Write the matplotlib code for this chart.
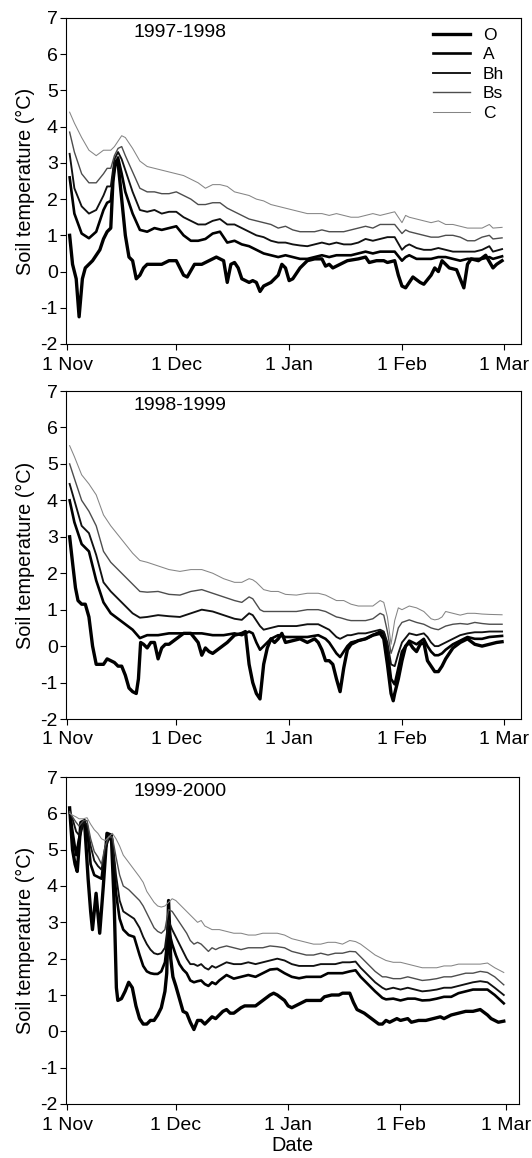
import matplotlib
matplotlib.use("Agg")
import matplotlib.pyplot as plt

plt.rcParams['font.family'] = ['Liberation Sans', 'DejaVu Sans']
plt.rcParams['axes.unicode_minus'] = False

# Day numbers count from 1 Nov (= 0)
tick_labels = ["1 Nov", "1 Dec", "1 Jan", "1 Feb", "1 Mar"]
ticks_9798 = [0, 30, 61, 92, 120]
ticks_9899 = [0, 30, 61, 92, 120]
ticks_9900 = [0, 30, 61, 92, 121]
horizons = ["O", "A", "Bh", "Bs", "C"]
seasons = ["1997-1998", "1998-1999", "1999-2000"]

# ---------------- 1997-1998 ----------------
o_9798_days = [0.7, 1.5, 2.5, 3.3, 4.2, 5, 7, 9, 10, 11, 12, 12.6, 13.3, 14, 15, 16, 17, 18, 19, 20,
               21, 22, 24, 26, 28, 30, 32, 33, 35, 37, 39, 41, 43, 44, 45, 46, 47, 48, 50, 51,
               52, 53, 54, 56, 58, 59, 60, 61, 62, 64, 66, 68, 70, 71, 72, 73, 75, 77, 80, 82,
               83, 85, 87, 88, 90, 91, 92, 93, 94, 95, 97, 98, 100, 101, 102, 103, 105, 107, 109, 110,
               111, 113, 115, 117, 118, 119.5]
o_9798 = [1.0, 0.2, -0.2, -1.25, -0.2, 0.1, 0.3, 0.6, 0.9, 1.1, 1.2, 2.5, 3.05, 3.0, 2.0, 1.0, 0.4, 0.3, -0.2, -0.1,
          0.1, 0.2, 0.2, 0.2, 0.3, 0.3, -0.1, -0.15, 0.2, 0.2, 0.3, 0.4, 0.3, -0.3, 0.2, 0.25, 0.1, -0.2, -0.3, -0.25,
          -0.3, -0.55, -0.4, -0.3, -0.1, 0.2, 0.1, -0.25, -0.2, 0.1, 0.3, 0.35, 0.35, 0.15, 0.2, 0.1, 0.2, 0.3, 0.35, 0.4,
          0.25, 0.3, 0.3, 0.25, 0.3, -0.1, -0.4, -0.45, -0.3, -0.15, -0.3, -0.35, -0.1, 0.1, 0.0, 0.3, 0.1, 0.05, -0.45, 0.2,
          0.35, 0.3, 0.45, 0.1, 0.2, 0.3]

days_9798 = [0.7, 2, 4, 6, 8, 10, 11, 12, 13, 14,
             15, 16, 18, 20, 22, 24, 26, 28, 30, 32,
             34, 36, 38, 40, 42, 44, 46, 48, 50, 52,
             54, 56, 58, 60, 62, 64, 66, 68, 70, 72,
             74, 76, 78, 80, 82, 84, 86, 88, 90, 92,
             93, 94, 96, 98, 100, 102, 104, 106, 108, 110,
             112, 114, 116, 117, 119.5]
a_9798 = [2.6, 1.6, 1.05, 0.92, 1.1, 1.7, 1.9, 1.95, 2.9, 3.15,
          2.7, 2.2, 1.6, 1.15, 1.1, 1.2, 1.15, 1.2, 1.25, 1.0,
          0.85, 0.85, 0.9, 1.05, 1.1, 0.8, 0.85, 0.75, 0.7, 0.6,
          0.5, 0.45, 0.4, 0.45, 0.4, 0.35, 0.35, 0.4, 0.45, 0.4,
          0.45, 0.45, 0.45, 0.5, 0.55, 0.5, 0.55, 0.55, 0.55, 0.3,
          0.4, 0.45, 0.35, 0.35, 0.35, 0.4, 0.4, 0.35, 0.3, 0.35,
          0.35, 0.35, 0.4, 0.35, 0.42]
bh_9798 = [3.25, 2.3, 1.8, 1.6, 1.7, 2.1, 2.35, 2.35, 3.1, 3.3,
           3.1, 2.8, 2.2, 1.7, 1.65, 1.7, 1.6, 1.65, 1.65, 1.5,
           1.4, 1.3, 1.3, 1.4, 1.45, 1.3, 1.3, 1.2, 1.1, 1.0,
           0.95, 0.85, 0.8, 0.8, 0.75, 0.72, 0.7, 0.75, 0.8, 0.75,
           0.8, 0.75, 0.75, 0.8, 0.9, 0.85, 0.9, 0.95, 0.95, 0.6,
           0.7, 0.75, 0.65, 0.6, 0.6, 0.65, 0.6, 0.55, 0.55, 0.55,
           0.55, 0.6, 0.7, 0.55, 0.62]
bs_9798 = [3.85, 3.3, 2.7, 2.45, 2.45, 2.7, 2.85, 2.85, 3.2, 3.4,
           3.45, 3.2, 2.75, 2.3, 2.2, 2.2, 2.15, 2.15, 2.2, 2.1,
           2.0, 1.85, 1.85, 1.9, 1.9, 1.75, 1.65, 1.55, 1.45, 1.4,
           1.35, 1.3, 1.2, 1.25, 1.15, 1.1, 1.1, 1.1, 1.15, 1.1,
           1.1, 1.1, 1.15, 1.2, 1.25, 1.2, 1.3, 1.3, 1.3, 1.05,
           1.15, 1.1, 1.05, 1.0, 0.95, 0.95, 1.0, 1.0, 0.95, 0.85,
           0.85, 0.95, 1.0, 0.9, 0.93]
c_9798 = [4.4, 4.1, 3.7, 3.35, 3.2, 3.35, 3.35, 3.35, 3.45, 3.6,
          3.75, 3.7, 3.4, 3.05, 2.9, 2.85, 2.8, 2.75, 2.7, 2.65,
          2.55, 2.45, 2.3, 2.4, 2.4, 2.35, 2.2, 2.15, 2.1, 2.0,
          1.95, 1.85, 1.8, 1.75, 1.7, 1.65, 1.6, 1.6, 1.6, 1.55,
          1.6, 1.55, 1.5, 1.5, 1.55, 1.6, 1.55, 1.6, 1.65, 1.35,
          1.55, 1.5, 1.45, 1.4, 1.35, 1.4, 1.3, 1.3, 1.25, 1.2,
          1.2, 1.2, 1.3, 1.2, 1.22]

# ---------------- 1998-1999 ----------------
o_9899_days = [0.7, 1.6, 2.3, 3, 4, 5, 6, 7, 8, 9, 10, 11, 12, 13, 14, 15, 16, 17, 18, 19,
               19.6, 20.2, 21, 22, 23, 24, 25, 26, 27, 28, 30, 32, 34, 36, 37, 38, 39, 40, 42, 44,
               46, 48, 49, 50, 51, 52, 53, 54, 55, 56, 57, 58, 59, 60, 62, 64, 66, 68, 69, 70,
               71, 72, 73, 74, 75, 76, 77, 78, 80, 82, 84, 86, 87, 88, 89, 89.6, 90, 91, 92, 93,
               94, 95, 96, 97, 98, 99, 100, 101, 102, 103, 104, 106, 108, 110, 112, 114, 116, 118, 119.5]
o_9899 = [3.0, 2.2, 1.6, 1.25, 1.15, 1.15, 0.8, 0.0, -0.5, -0.5, -0.5, -0.35, -0.4, -0.45, -0.55, -0.55, -0.8, -1.15, -1.25, -1.3,
          -0.9, 0.1, 0.05, -0.05, 0.1, 0.1, -0.35, -0.05, 0.05, 0.05, 0.2, 0.35, 0.35, 0.1, -0.25, -0.05, -0.15, -0.2, -0.05, 0.1,
          0.3, 0.35, 0.4, -0.5, -1.0, -1.3, -1.45, -0.5, -0.05, 0.2, 0.1, 0.2, 0.35, 0.1, 0.15, 0.2, 0.1, 0.2, 0.1, -0.1,
          -0.4, -0.4, -0.5, -0.9, -1.25, -0.6, -0.1, 0.05, 0.15, 0.2, 0.3, 0.35, 0.2, -0.5, -1.3, -1.5, -1.3, -0.9, -0.4, 0.0,
          0.1, -0.05, -0.15, 0.05, 0.1, -0.4, -0.55, -0.7, -0.7, -0.55, -0.35, -0.05, 0.1, 0.2, 0.05, 0.0, 0.05, 0.1, 0.12]

days_9899 = [0.7, 2, 4, 6, 8, 10, 12, 14, 16, 18,
             20, 22, 25, 28, 31, 34, 37, 40, 43, 46,
             48, 50, 51, 52, 53, 54, 56, 58, 60, 63,
             66, 69, 71, 72, 73, 74, 75, 76, 77, 78,
             80, 82, 84, 86, 87, 88, 89, 90, 91, 92,
             94, 96, 98, 99, 100, 101, 102, 103, 104, 106,
             108, 110, 112, 114, 116, 119.5]
a_9899 = [4.0, 3.4, 2.8, 2.6, 1.8, 1.2, 0.9, 0.75, 0.6, 0.45,
          0.22, 0.3, 0.3, 0.35, 0.35, 0.35, 0.35, 0.3, 0.3, 0.35,
          0.3, 0.4, 0.35, 0.1, -0.1, 0.0, 0.2, 0.3, 0.25, 0.25,
          0.25, 0.3, 0.2, 0.1, -0.05, -0.2, -0.3, -0.15, 0.0, 0.1,
          0.15, 0.2, 0.3, 0.4, 0.35, -0.1, -0.9, -1.05, -0.6, -0.15,
          0.15, 0.05, 0.2, 0.0, -0.15, -0.25, -0.25, -0.2, -0.1, 0.05,
          0.15, 0.25, 0.2, 0.2, 0.25, 0.28]
bh_9899 = [4.45, 4.0, 3.3, 3.1, 2.5, 1.75, 1.5, 1.3, 1.1, 0.9,
           0.78, 0.8, 0.85, 0.82, 0.8, 0.9, 1.0, 0.95, 0.85, 0.75,
           0.72, 0.9, 0.85, 0.7, 0.55, 0.45, 0.5, 0.55, 0.55, 0.55,
           0.6, 0.6, 0.5, 0.45, 0.35, 0.25, 0.2, 0.25, 0.3, 0.3,
           0.35, 0.35, 0.4, 0.45, 0.4, 0.1, -0.5, -0.55, -0.2, 0.1,
           0.35, 0.3, 0.35, 0.25, 0.1, 0.0, 0.0, 0.05, 0.1, 0.2,
           0.3, 0.35, 0.38, 0.38, 0.4, 0.4]
bs_9899 = [5.0, 4.6, 4.0, 3.7, 3.3, 2.6, 2.3, 2.1, 1.9, 1.7,
           1.5, 1.48, 1.5, 1.42, 1.4, 1.5, 1.55, 1.45, 1.35, 1.25,
           1.2, 1.35, 1.3, 1.15, 1.0, 0.95, 0.95, 0.95, 0.95, 0.95,
           1.0, 1.0, 0.95, 0.9, 0.85, 0.8, 0.78, 0.75, 0.72, 0.7,
           0.7, 0.7, 0.75, 0.9, 0.85, 0.4, -0.2, 0.1, 0.5, 0.65,
           0.72, 0.65, 0.6, 0.55, 0.5, 0.47, 0.45, 0.5, 0.55, 0.6,
           0.62, 0.6, 0.65, 0.62, 0.6, 0.6]
c_9899 = [5.5, 5.2, 4.7, 4.45, 4.15, 3.6, 3.3, 3.05, 2.8, 2.55,
          2.35, 2.3, 2.2, 2.1, 2.05, 2.1, 2.1, 2.0, 1.85, 1.75,
          1.75, 1.85, 1.82, 1.75, 1.65, 1.55, 1.5, 1.5, 1.42, 1.4,
          1.45, 1.45, 1.4, 1.35, 1.3, 1.25, 1.25, 1.25, 1.2, 1.15,
          1.1, 1.1, 1.1, 1.25, 1.2, 0.8, 0.05, 0.7, 1.05, 1.0,
          1.1, 1.05, 0.95, 0.85, 0.75, 0.72, 0.74, 0.8, 0.95, 0.9,
          0.85, 0.9, 0.9, 0.88, 0.87, 0.86]

# ---------------- 1999-2000 ----------------
o_9900_days = [0.7, 1.5, 2.2, 2.8, 3.8, 4.8, 5.8, 6.5, 7, 8, 9, 10, 11, 12.2, 13, 13.6, 14, 15, 16, 17,
               18, 19, 20, 21, 22, 23, 24, 25, 26, 27, 27.5, 28, 28.6, 29.2, 30, 31, 32, 33, 34, 35,
               36, 37, 38, 39, 40, 41, 43, 44, 45, 46, 48, 49, 50, 52, 54, 56, 57, 58, 60, 61,
               62, 64, 66, 68, 70, 71, 73, 75, 76, 78, 79, 80, 82, 84, 86, 87, 88, 89, 91, 92,
               94, 95, 97, 99, 101, 103, 104, 106, 108, 110, 112, 114, 116, 117, 119, 120.5]
o_9900 = [6.15, 5.0, 4.6, 4.4, 5.75, 5.8, 4.2, 3.3, 2.8, 3.8, 2.7, 4.0, 5.45, 5.4, 3.5, 1.2, 0.85, 0.9, 1.1, 1.35,
          1.2, 0.7, 0.35, 0.2, 0.2, 0.3, 0.3, 0.45, 0.65, 1.1, 1.6, 3.6, 2.0, 1.5, 1.25, 0.9, 0.55, 0.5, 0.25, 0.05,
          0.3, 0.3, 0.2, 0.3, 0.4, 0.35, 0.55, 0.6, 0.5, 0.5, 0.65, 0.7, 0.7, 0.7, 0.85, 1.0, 1.05, 1.0, 0.85, 0.7,
          0.65, 0.75, 0.85, 0.85, 0.85, 0.95, 1.0, 1.0, 1.05, 1.05, 0.8, 0.6, 0.5, 0.35, 0.2, 0.2, 0.3, 0.25, 0.35, 0.3,
          0.35, 0.25, 0.3, 0.3, 0.35, 0.4, 0.35, 0.45, 0.5, 0.55, 0.55, 0.6, 0.45, 0.35, 0.25, 0.28]

days_9900 = [0.7, 1.5, 2.5, 3.3, 4.5, 5.5, 6.5, 7.5, 8.5, 9.5,
             10.5, 11.5, 12.5, 13.5, 14.5, 15.5, 17, 18.5, 20, 21,
             22, 23, 24, 25, 26, 27, 28, 29, 30, 31,
             32, 33, 34, 35, 36, 37, 38, 39, 40, 41,
             42, 44, 46, 48, 50, 52, 54, 56, 58, 60,
             62, 64, 66, 68, 70, 72, 74, 76, 78, 79.6,
             81, 83, 85, 87, 88, 90, 92, 94, 96, 98,
             100, 102, 104, 106, 108, 110, 112, 114, 116, 118,
             120.5]
a_9900 = [6.1, 5.5, 4.85, 5.3, 5.75, 5.6, 4.6, 4.3, 4.25, 4.2,
          5.0, 5.35, 5.2, 3.8, 3.1, 2.8, 2.65, 2.6, 2.1, 1.8,
          1.65, 1.6, 1.58, 1.58, 1.65, 1.9, 2.8, 2.4, 2.1, 1.85,
          1.7, 1.6, 1.4, 1.35, 1.38, 1.4, 1.3, 1.25, 1.35, 1.3,
          1.4, 1.55, 1.45, 1.5, 1.55, 1.5, 1.6, 1.7, 1.72, 1.6,
          1.5, 1.46, 1.5, 1.5, 1.5, 1.6, 1.6, 1.6, 1.65, 1.68,
          1.5, 1.3, 1.1, 0.92, 0.88, 0.9, 0.85, 0.9, 0.9, 0.85,
          0.86, 0.9, 0.95, 0.95, 1.05, 1.1, 1.15, 1.15, 1.15, 1.0,
          0.77]
bh_9900 = [6.05, 5.85, 5.5, 5.4, 5.75, 5.7, 5.1, 4.7, 4.55, 4.45,
           5.0, 5.35, 5.3, 4.3, 3.6, 3.3, 3.2, 3.1, 2.85, 2.6,
           2.4, 2.25, 2.15, 2.12, 2.15, 2.3, 3.05, 2.8, 2.6, 2.4,
           2.2, 2.0, 1.85, 1.85, 1.8, 1.85, 1.75, 1.7, 1.8, 1.75,
           1.8, 1.9, 1.85, 1.85, 1.9, 1.85, 1.9, 1.95, 2.0, 1.95,
           1.85, 1.8, 1.8, 1.8, 1.85, 1.85, 1.85, 1.9, 1.9, 1.92,
           1.75, 1.55, 1.35, 1.2, 1.15, 1.2, 1.15, 1.2, 1.15, 1.1,
           1.12, 1.15, 1.2, 1.2, 1.25, 1.3, 1.35, 1.38, 1.35, 1.2,
           1.0]
bs_9900 = [6.05, 5.9, 5.75, 5.65, 5.8, 5.8, 5.3, 4.95, 4.8, 4.6,
           5.1, 5.35, 5.35, 4.8, 4.3, 4.0, 3.9, 3.75, 3.6, 3.45,
           3.25, 3.05, 2.85, 2.75, 2.7, 2.8, 3.35, 3.3, 3.15, 3.0,
           2.85, 2.7, 2.5, 2.4, 2.45, 2.4, 2.3, 2.2, 2.3, 2.25,
           2.3, 2.35, 2.3, 2.25, 2.3, 2.3, 2.3, 2.35, 2.33, 2.3,
           2.2, 2.15, 2.1, 2.1, 2.15, 2.1, 2.15, 2.15, 2.2, 2.19,
           2.05, 1.85, 1.65, 1.5, 1.5, 1.45, 1.45, 1.5, 1.45, 1.4,
           1.42, 1.45, 1.5, 1.5, 1.55, 1.6, 1.6, 1.65, 1.62, 1.5,
           1.28]
c_9900 = [6.0, 5.95, 5.9, 5.85, 5.85, 5.88, 5.7, 5.55, 5.45, 5.3,
          5.25, 5.35, 5.45, 5.3, 5.1, 4.85, 4.65, 4.45, 4.25, 4.1,
          3.85, 3.7, 3.55, 3.45, 3.42, 3.45, 3.55, 3.65, 3.6, 3.5,
          3.4, 3.3, 3.2, 3.1, 3.0, 3.05, 2.9, 2.85, 2.8, 2.8,
          2.8, 2.75, 2.7, 2.7, 2.65, 2.65, 2.7, 2.7, 2.7, 2.65,
          2.55, 2.5, 2.45, 2.4, 2.4, 2.45, 2.45, 2.4, 2.5, 2.47,
          2.4, 2.25, 2.1, 2.0, 1.95, 1.9, 1.9, 1.85, 1.8, 1.75,
          1.75, 1.75, 1.8, 1.8, 1.85, 1.85, 1.85, 1.85, 1.88, 1.75,
          1.62]

panels = [
    (seasons[0], ticks_9798, (o_9798_days, o_9798), days_9798, [a_9798, bh_9798, bs_9798, c_9798]),
    (seasons[1], ticks_9899, (o_9899_days, o_9899), days_9899, [a_9899, bh_9899, bs_9899, c_9899]),
    (seasons[2], ticks_9900, (o_9900_days, o_9900), days_9900, [a_9900, bh_9900, bs_9900, c_9900]),
]

# line styles per horizon: thick black at the surface, thin grey at depth
widths = [2.4, 1.9, 1.35, 1.0, 0.75]
colors = ["black", "black", "#111111", "#4d4d4d", "#858585"]

W, H = 532, 1158
fig = plt.figure(figsize=(W / 100, H / 100), dpi=100)
# axes boxes in pixels: left, top, right, bottom
boxes = [(66, 18, 521, 344), (66, 391, 521, 719), (66, 777, 519, 1104)]

for i, (season, ticks, o_series, days, deeper) in enumerate(panels):
    l, t, r, b = boxes[i]
    ax = fig.add_axes([l / W, 1 - b / H, (r - l) / W, (b - t) / H])

    ax.plot(o_series[0], o_series[1], color=colors[0], lw=widths[0], label=horizons[0],
            solid_joinstyle="round")
    for k, vals in enumerate(deeper):
        ax.plot(days, vals, color=colors[k + 1], lw=widths[k + 1], label=horizons[k + 1],
                solid_joinstyle="round")

    ax.set_xlim(-0.3, 124.7)
    ax.set_ylim(-2, 7)
    ax.set_yticks(range(-2, 8))
    ax.set_xticks(ticks)
    ax.set_xticklabels(tick_labels)
    ax.tick_params(direction="out", length=4, width=0.8, labelsize=14, pad=2)
    ax.tick_params(axis="x", pad=5)
    for s in ax.spines.values():
        s.set_linewidth(0.8)
    ax.set_ylabel("Soil temperature (\u00b0C)", fontsize=14.3, labelpad=4)
    ax.text(0.148, 0.955, season, transform=ax.transAxes, fontsize=14,
            ha="left", va="center")

    if i == 0:
        ax.legend(loc="upper left", bbox_to_anchor=(0.807, 0.97), frameon=False,
                  fontsize=12.5, handlelength=2.1, handletextpad=0.75,
                  labelspacing=0.25, borderpad=0, borderaxespad=0)
    if i == 2:
        ax.set_xlabel("Date", fontsize=14.3, labelpad=2)

fig.savefig("out.png", dpi=100)
